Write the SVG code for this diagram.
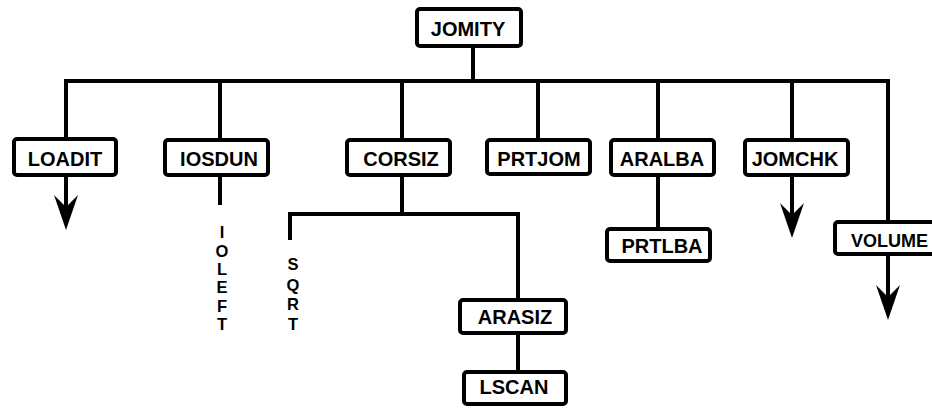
<svg xmlns="http://www.w3.org/2000/svg" width="932" height="408" viewBox="0 0 932 408">
<style>
.box{fill:#fff;stroke:#000;stroke-width:4;}
.lbl{font-family:"Liberation Sans",Arial,sans-serif;font-weight:bold;font-size:20px;fill:#000;text-anchor:middle;}
.vt{font-family:"Liberation Sans",Arial,sans-serif;font-weight:bold;font-size:16.5px;fill:#000;text-anchor:middle;}
.ln{fill:none;stroke:#000;stroke-width:4;stroke-linejoin:miter;}
</style>
<defs>
<marker id="arr" markerUnits="userSpaceOnUse" markerWidth="40" markerHeight="30" viewBox="0 -15 40 30" refX="12" refY="0" orient="auto">
<path d="M0,-12 L35,0 L0,12 L12,0 Z" fill="#000"/>
</marker>
</defs>
<rect width="932" height="408" fill="#fff"/>
<g id="connectors">
<path class="ln" d="M473,48 V81"/>
<path class="ln" d="M66,137 V81 H888 V220"/>
<path class="ln" d="M220,81 V138"/>
<path class="ln" d="M402,81 V138"/>
<path class="ln" d="M538,81 V138"/>
<path class="ln" d="M658,81 V138"/>
<path class="ln" d="M792,81 V138"/>
<path class="ln" d="M66,176 V207" marker-end="url(#arr)"/>
<path class="ln" d="M220,177 V205"/>
<path class="ln" d="M402,177 V214"/>
<path class="ln" d="M290,240 V214 H518 V298"/>
<path class="ln" d="M518,335 V370"/>
<path class="ln" d="M658,177 V227"/>
<path class="ln" d="M792,177 V215" marker-end="url(#arr)"/>
<path class="ln" d="M888,256 V297" marker-end="url(#arr)"/>
</g>
<g id="JOMITY"><rect class="box" x="417" y="9" width="104" height="37" rx="3"/><text class="lbl" x="468" y="36">JOMITY</text></g>
<g id="LOADIT"><rect class="box" x="14" y="139" width="102" height="36" rx="3"/><text class="lbl" x="65" y="166">LOADIT</text></g>
<g id="IOSDUN"><rect class="box" x="165" y="140" width="103" height="35" rx="3"/><text class="lbl" x="219" y="166">IOSDUN</text></g>
<g id="CORSIZ"><rect class="box" x="347" y="140" width="103" height="35" rx="3"/><text class="lbl" x="401" y="166">CORSIZ</text></g>
<g id="PRTJOM"><rect class="box" x="487" y="140" width="103" height="34" rx="3"/><text class="lbl" x="539" y="166">PRTJOM</text></g>
<g id="ARALBA"><rect class="box" x="611" y="140" width="103" height="35" rx="3"/><text class="lbl" x="662" y="166">ARALBA</text></g>
<g id="JOMCHK"><rect class="box" x="745" y="140" width="103" height="35" rx="3"/><text class="lbl" x="795" y="166">JOMCHK</text></g>
<g id="PRTLBA"><rect class="box" x="607" y="229" width="103" height="32" rx="3"/><text class="lbl" x="662" y="253">PRTLBA</text></g>
<g id="VOLUME"><rect class="box" x="835" y="222" width="110" height="32" rx="3"/><text class="lbl" x="851" y="247" style="text-anchor:start;font-size:18px">VOLUME</text></g>
<g id="ARASIZ"><rect class="box" x="460" y="300" width="106" height="33" rx="3"/><text class="lbl" x="515" y="324">ARASIZ</text></g>
<g id="LSCAN"><rect class="box" x="464" y="372" width="102" height="32" rx="3"/><text class="lbl" x="514" y="394">LSCAN</text></g>
<g id="IOLEFT"><text class="vt"><tspan x="222" y="238">I</tspan><tspan x="222" y="257">O</tspan><tspan x="222" y="275">L</tspan><tspan x="222" y="293">E</tspan><tspan x="222" y="312">F</tspan><tspan x="222" y="330">T</tspan></text></g>
<g id="SQRT"><text class="vt"><tspan x="293" y="270">S</tspan><tspan x="293" y="291">Q</tspan><tspan x="293" y="310">R</tspan><tspan x="293" y="330">T</tspan></text></g>
</svg>
